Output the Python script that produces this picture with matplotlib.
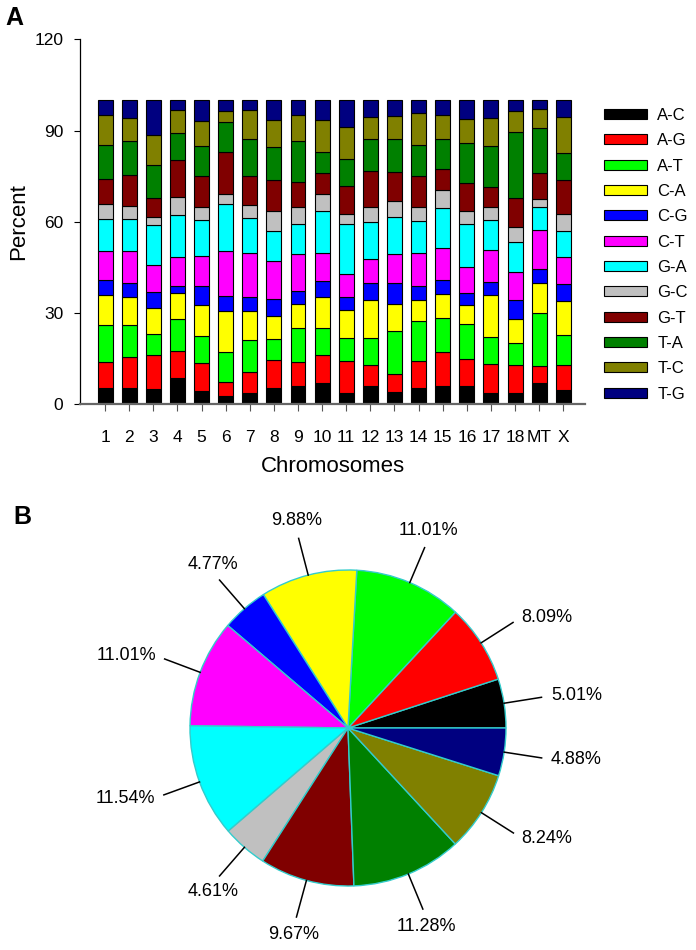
import numpy as np
import matplotlib
matplotlib.use("Agg")
import matplotlib.pyplot as plt

plt.rcParams['font.family'] = ['Liberation Sans', 'DejaVu Sans']

chromosomes = ['1', '2', '3', '4', '5', '6', '7', '8', '9', '10',
               '11', '12', '13', '14', '15', '16', '17', '18', 'MT', 'X']
mut_types = ['A-C', 'A-G', 'A-T', 'C-A', 'C-G', 'C-T',
             'G-A', 'G-C', 'G-T', 'T-A', 'T-C', 'T-G']
colors = ['#000000', '#ff0000', '#00ff00', '#ffff00', '#0000ff', '#ff00ff',
          '#00ffff', '#c0c0c0', '#800000', '#008000', '#808000', '#000080']

# percent of each mutation type per chromosome
a_c = [5.4, 5.2, 4.9, 8.7, 4.2, 2.7, 3.5, 5.2, 6.0, 6.8, 3.7, 5.9, 4.1, 5.4, 5.8, 5.9, 3.7, 3.5, 7.0, 4.6]
a_g = [8.5, 10.4, 11.1, 8.7, 9.2, 4.4, 6.9, 9.3, 7.7, 9.2, 10.4, 7.1, 5.7, 8.7, 11.2, 8.9, 9.5, 9.5, 5.4, 8.1]
a_t = [12.0, 10.3, 7.1, 10.5, 9.1, 10.1, 10.7, 7.0, 11.4, 8.9, 7.5, 8.8, 14.2, 13.2, 11.4, 11.5, 8.7, 7.0, 17.4, 9.9]
c_a = [10.0, 9.4, 8.6, 8.5, 10.1, 13.4, 9.5, 7.6, 7.7, 10.4, 9.3, 12.6, 9.0, 7.1, 7.7, 6.4, 14.0, 8.1, 10.0, 11.4]
c_g = [4.9, 4.6, 5.3, 2.5, 6.3, 4.9, 4.7, 5.4, 4.4, 5.2, 4.2, 5.3, 6.7, 4.5, 4.7, 3.7, 4.3, 6.2, 4.6, 5.6]
c_t = [9.6, 10.5, 8.7, 9.6, 9.9, 14.8, 14.3, 12.6, 12.1, 9.3, 7.6, 8.1, 9.6, 10.8, 10.6, 8.8, 10.5, 9.2, 12.9, 8.9]
g_a = [10.6, 10.6, 13.1, 13.6, 11.9, 15.7, 11.5, 10.0, 10.1, 13.6, 16.4, 12.0, 12.4, 10.4, 13.0, 14.2, 9.8, 9.9, 7.6, 8.4]
g_c = [5.0, 4.2, 2.6, 6.1, 4.0, 3.3, 4.3, 6.6, 5.6, 5.8, 3.5, 4.9, 5.1, 4.6, 6.0, 4.1, 4.2, 4.9, 2.6, 5.8]
g_t = [8.2, 10.1, 6.5, 12.1, 10.5, 13.7, 9.6, 10.2, 8.2, 6.8, 9.2, 11.9, 9.6, 10.5, 7.1, 9.1, 6.8, 9.4, 8.4, 11.0]
t_a = [11.2, 11.2, 10.9, 9.0, 9.9, 9.7, 12.4, 10.6, 13.5, 7.1, 9.0, 10.5, 10.9, 10.0, 9.7, 13.4, 13.4, 21.7, 14.8, 8.8]
t_c = [9.9, 7.7, 9.7, 7.6, 8.1, 3.8, 9.3, 8.9, 8.6, 10.3, 10.4, 7.4, 7.5, 10.6, 8.1, 7.9, 9.2, 7.1, 6.3, 12.0]
t_g = [4.7, 5.8, 11.5, 3.1, 6.8, 3.5, 3.3, 6.6, 4.7, 6.6, 8.8, 5.5, 5.2, 4.2, 4.7, 6.1, 5.9, 3.5, 3.0, 5.5]
series = [a_c, a_g, a_t, c_a, c_g, c_t, g_a, g_c, g_t, t_a, t_c, t_g]

# overall share of each mutation type (pie)
pie_values = [5.01, 8.09, 11.01, 9.88, 4.77, 11.01, 11.54, 4.61, 9.67, 11.28, 8.24, 4.88]

W, H = 696, 950
fig = plt.figure(figsize=(W / 100, H / 100), dpi=100)

# ---- panel A: stacked bars ----
ax = fig.add_axes([80 / W, 1 - 404 / H, 505 / W, (404 - 39.5) / H])
x = np.arange(len(chromosomes))
bottom = np.zeros(len(chromosomes))
for name, vals, col in zip(mut_types, series, colors):
    vals = np.array(vals)
    ax.bar(x, vals, 0.62, bottom=bottom, color=col, edgecolor='black',
           linewidth=0.8, label=name)
    bottom += vals

ax.set_xlim(-1.04, len(chromosomes) - 0.1)
ax.set_ylim(0, 120)
ax.set_yticks([0, 30, 60, 90, 120])
ax.set_xticks(x)
ax.set_xticklabels(chromosomes)
ax.tick_params(axis='y', labelsize=12.5, length=4, pad=8, direction='out')
ax.tick_params(axis='x', labelsize=12.5, length=5, pad=14, direction='out', color='#555555')
for s in ['top', 'right']:
    ax.spines[s].set_visible(False)
ax.spines['bottom'].set_color('#666666')
ax.spines['bottom'].set_linewidth(1.6)
ax.spines['left'].set_linewidth(0.9)
ax.set_ylabel('Percent', fontsize=16, labelpad=4)
ax.set_xlabel('Chromosomes', fontsize=16, labelpad=8)

ax.legend(loc='upper left', bbox_to_anchor=(604 / W, 1 - 108 / H),
          bbox_transform=fig.transFigure, frameon=False, fontsize=12,
          handlelength=2.6, handleheight=0.55, handletextpad=0.6,
          labelspacing=0.62, borderpad=0, borderaxespad=0)

# ---- panel B: pie ----
r_px = 158
cx, cy = 348, 728
hw, hh = 250, 220
pax = fig.add_axes([(cx - hw) / W, 1 - (cy + hh) / H, 2 * hw / W, 2 * hh / H])
wedges, _ = pax.pie(pie_values, colors=colors, startangle=0, counterclock=True,
                    wedgeprops=dict(edgecolor='#33cccc', linewidth=1.0))
pax.set_xlim(-hw / r_px, hw / r_px)
pax.set_ylim(-hh / r_px, hh / r_px)
pax.set_aspect('auto')

for w, v in zip(wedges, pie_values):
    ang = np.deg2rad((w.theta1 + w.theta2) / 2)
    c, s = np.cos(ang), np.sin(ang)
    pax.plot([c, 1.24 * c], [s, 1.24 * s], color='black', lw=1.1)
    if abs(c) > 0.7:
        ha = 'left' if c > 0 else 'right'
        va = 'center'
    else:
        ha = 'center'
        va = 'bottom' if s > 0 else 'top'
    pax.text(1.3 * c, 1.3 * s, f'{v:.2f}%', ha=ha, va=va, fontsize=13)

fig.text(5 / W, 1 - 25 / H, 'A', fontsize=18, fontweight='bold')
fig.text(13 / W, 1 - 524 / H, 'B', fontsize=18, fontweight='bold')

fig.savefig('out.png', dpi=100)
